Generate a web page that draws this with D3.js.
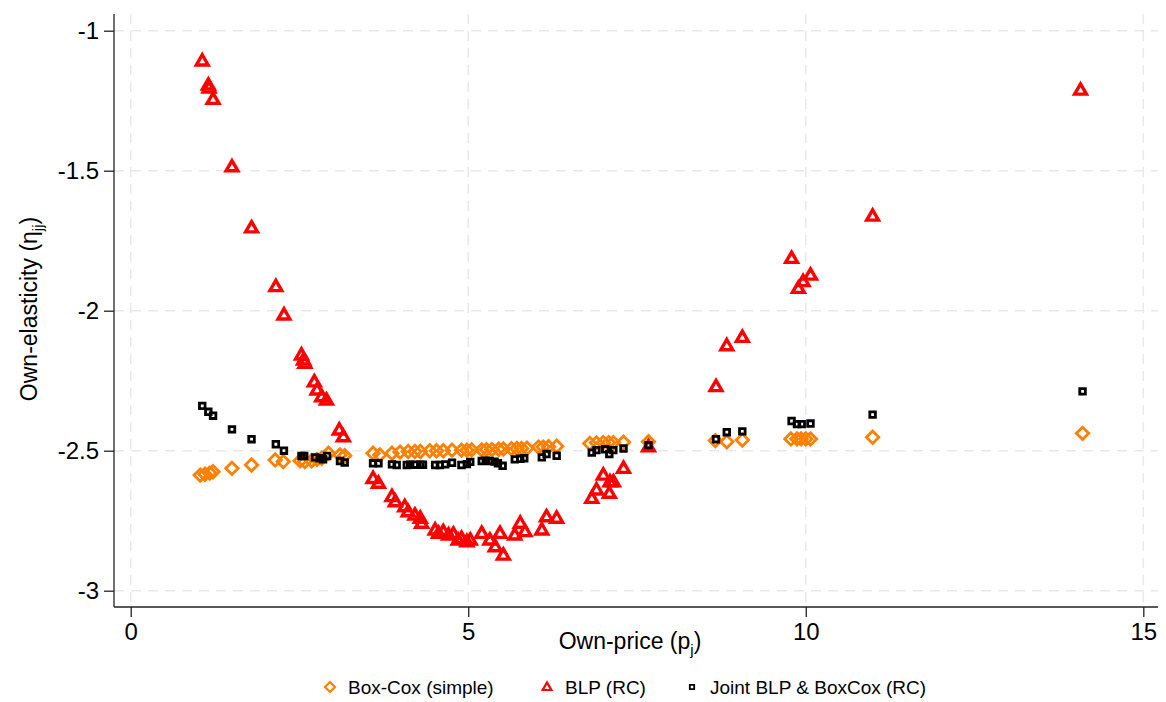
<!DOCTYPE html>
<html>
<head>
<meta charset="utf-8">
<script src="https://cdn.jsdelivr.net/npm/d3@7"></script>
<style>
  body { margin: 0; background: #fff; }
  svg { font-family: "Liberation Sans", Arial, sans-serif; }
</style>
</head>
<body>
<svg width="1166" height="702"></svg>
<script>
// [own-price, own-elasticity]
const boxCox = [
  [1.03,-2.587],[1.10,-2.584],[1.17,-2.580],[1.22,-2.575],[1.50,-2.563],[1.79,-2.551],
  [2.14,-2.533],[2.26,-2.539],[2.51,-2.536],[2.58,-2.539],[2.68,-2.536],[2.76,-2.531],
  [2.83,-2.527],[2.93,-2.509],[3.10,-2.515],[3.17,-2.518],
  [3.59,-2.509],[3.69,-2.515],[3.87,-2.509],[3.99,-2.505],[4.11,-2.503],[4.21,-2.503],
  [4.29,-2.503],[4.43,-2.500],[4.53,-2.500],[4.63,-2.500],[4.76,-2.498],[4.90,-2.498],
  [4.98,-2.498],[5.05,-2.497],[5.20,-2.497],[5.27,-2.496],[5.35,-2.496],[5.45,-2.495],
  [5.52,-2.494],[5.64,-2.493],[5.72,-2.492],[5.79,-2.492],[5.87,-2.491],[6.04,-2.487],
  [6.11,-2.487],[6.19,-2.486],[6.31,-2.484],[6.80,-2.474],[6.90,-2.472],[7.00,-2.471],
  [7.08,-2.471],[7.15,-2.471],[7.30,-2.470],[7.67,-2.468],
  [8.66,-2.464],[8.83,-2.468],[9.06,-2.462],[9.78,-2.458],[9.87,-2.458],[9.93,-2.458],
  [10.00,-2.458],[10.07,-2.458],[10.99,-2.452],[14.10,-2.438]
];

const blp = [
  [1.06,-1.108],[1.15,-1.194],[1.16,-1.205],[1.22,-1.245],[1.50,-1.486],[1.79,-1.704],
  [2.15,-1.914],[2.27,-2.015],[2.53,-2.158],[2.56,-2.176],[2.58,-2.188],[2.72,-2.254],
  [2.76,-2.283],[2.83,-2.307],[2.90,-2.319],[3.09,-2.426],[3.15,-2.450],
  [3.59,-2.599],[3.67,-2.616],[3.87,-2.664],[3.92,-2.682],[4.06,-2.700],[4.11,-2.718],
  [4.21,-2.730],[4.29,-2.741],[4.31,-2.759],[4.51,-2.783],[4.56,-2.795],[4.63,-2.789],
  [4.71,-2.801],[4.78,-2.798],[4.85,-2.819],[4.90,-2.813],[4.98,-2.825],[5.03,-2.819],
  [5.20,-2.795],[5.32,-2.819],[5.40,-2.843],[5.47,-2.795],[5.52,-2.873],[5.69,-2.801],
  [5.77,-2.759],[5.84,-2.789],[6.09,-2.783],[6.16,-2.736],[6.31,-2.741],
  [6.83,-2.670],[6.90,-2.640],[7.00,-2.587],[7.10,-2.611],[7.09,-2.652],[7.15,-2.611],
  [7.30,-2.563],[7.67,-2.486],
  [8.67,-2.271],[8.83,-2.125],[9.06,-2.095],[9.79,-1.813],[9.89,-1.920],[9.96,-1.896],
  [10.07,-1.873],[10.99,-1.662],[14.07,-1.212]
];

const joint = [
  [1.06,-2.340],[1.15,-2.361],[1.22,-2.375],[1.50,-2.424],[1.79,-2.459],[2.15,-2.477],
  [2.27,-2.500],[2.53,-2.519],[2.57,-2.519],[2.73,-2.524],[2.80,-2.527],[2.85,-2.531],
  [2.91,-2.519],[3.10,-2.537],[3.17,-2.542],
  [3.59,-2.545],[3.67,-2.545],[3.87,-2.549],[3.94,-2.551],[4.09,-2.551],[4.14,-2.550],
  [4.21,-2.550],[4.29,-2.550],[4.33,-2.550],[4.51,-2.551],[4.58,-2.551],[4.66,-2.549],
  [4.76,-2.543],[4.90,-2.551],[4.98,-2.548],[5.03,-2.540],[5.20,-2.537],[5.26,-2.536],
  [5.32,-2.537],[5.39,-2.539],[5.44,-2.545],[5.51,-2.554],[5.69,-2.531],[5.77,-2.529],
  [5.83,-2.527],[6.09,-2.524],[6.16,-2.512],[6.31,-2.518],
  [6.83,-2.507],[6.90,-2.498],[7.03,-2.495],[7.09,-2.512],[7.15,-2.498],[7.30,-2.492],
  [7.67,-2.480],
  [8.67,-2.459],[8.83,-2.434],[9.06,-2.431],[9.79,-2.394],[9.87,-2.405],[9.94,-2.405],
  [10.07,-2.403],[10.99,-2.371],[14.10,-2.288]
];

const xTicks = [0, 5, 10, 15];
const yTicks = [-1, -1.5, -2, -2.5, -3];
const legendLabels = ["Box-Cox (simple)", "BLP (RC)", "Joint BLP & BoxCox (RC)"];

const svg = d3.select("svg");

const x = d3.scaleLinear().domain([0, 15]).range([130.7, 1143.3]);
const y = d3.scaleLinear().domain([-1, -3]).range([30.7, 590.7]);

const plotLeft = 114, plotRight = 1158, plotTop = 14, plotBottom = 607;

// grid
svg.append("g").selectAll("line").data(yTicks).join("line")
  .attr("x1", plotLeft).attr("x2", plotRight)
  .attr("y1", d => y(d)).attr("y2", d => y(d))
  .attr("stroke", "#e9e9e9").attr("stroke-width", 1.5)
  .attr("stroke-dasharray", "10,7");
svg.append("g").selectAll("line").data(xTicks).join("line")
  .attr("y1", plotTop).attr("y2", plotBottom)
  .attr("x1", d => x(d)).attr("x2", d => x(d))
  .attr("stroke", "#e9e9e9").attr("stroke-width", 1.5)
  .attr("stroke-dasharray", "10,7");

// axes (hyphen minus, like the original)
const fmt = d => String(d);
const yAxis = svg.append("g").attr("transform", `translate(${plotLeft},0)`)
  .call(d3.axisLeft(y).tickValues(yTicks).tickSize(10).tickPadding(5).tickFormat(fmt));
const xAxis = svg.append("g").attr("transform", `translate(0,${plotBottom})`)
  .call(d3.axisBottom(x).tickValues(xTicks).tickSize(10).tickPadding(6).tickFormat(fmt));
[yAxis, xAxis].forEach(a => {
  a.select(".domain").remove();
  a.selectAll(".tick line").attr("stroke", "#222").attr("stroke-width", 1.3);
  a.selectAll(".tick text").attr("font-size", 24).attr("fill", "#000")
    .attr("font-family", "Liberation Sans, Arial, sans-serif");
});
svg.append("line").attr("x1", plotLeft).attr("x2", plotLeft).attr("y1", plotTop).attr("y2", plotBottom)
  .attr("stroke", "#222").attr("stroke-width", 1.3);
svg.append("line").attr("x1", plotLeft).attr("x2", plotRight).attr("y1", plotBottom).attr("y2", plotBottom)
  .attr("stroke", "#222").attr("stroke-width", 1.3);

// axis titles
const yt = svg.append("text").attr("transform", "translate(37,309) rotate(-90)")
  .attr("text-anchor", "middle").attr("font-size", 23);
yt.append("tspan").text("Own-elasticity (η");
yt.append("tspan").text("jj").attr("font-size", 15).attr("dy", 6);
yt.append("tspan").text(")").attr("dy", -6);

const xt = svg.append("text").attr("x", 630).attr("y", 649)
  .attr("text-anchor", "middle").attr("font-size", 23);
xt.append("tspan").text("Own-price (p");
xt.append("tspan").text("j").attr("font-size", 15).attr("dy", 6);
xt.append("tspan").text(")").attr("dy", -6);

// marker shapes
const diamond = s => `M0,${-s}L${s},0L0,${s}L${-s},0Z`;
const triangle = s => `M0,${-s}L${s * 0.95},${s * 0.65}L${-s * 0.95},${s * 0.65}Z`;
const square = s => `M${-s},${-s}H${s}V${s}H${-s}Z`;

function drawSeries(data, path, color, sw) {
  svg.append("g").selectAll("path").data(data).join("path")
    .attr("transform", d => `translate(${x(d[0])},${y(d[1])})`)
    .attr("d", path)
    .attr("fill", "none")
    .attr("stroke", color)
    .attr("stroke-width", sw)
    .attr("stroke-linejoin", "miter");
}

drawSeries(boxCox, diamond(6.2), "#ff8000", 2.8);
drawSeries(blp, triangle(6.2), "#ff0000", 3.4);
drawSeries(joint, square(2.8), "#000", 2.8);

// legend
const legend = [
  { label: legendLabels[0], x: 330, path: diamond(5), color: "#ff8000", sw: 2.2 },
  { label: legendLabels[1], x: 547, path: triangle(4.6), color: "#ff0000", sw: 2.2 },
  { label: legendLabels[2], x: 692, path: square(2.2), color: "#000", sw: 1.8 }
];
const lg = svg.append("g").selectAll("g").data(legend).join("g")
  .attr("transform", d => `translate(${d.x},687)`);
lg.append("path").attr("d", d => d.path).attr("fill", "none")
  .attr("stroke", d => d.color).attr("stroke-width", d => d.sw);
lg.append("text").attr("x", 18).attr("y", 7).attr("font-size", 19).text(d => d.label);
</script>
</body>
</html>
